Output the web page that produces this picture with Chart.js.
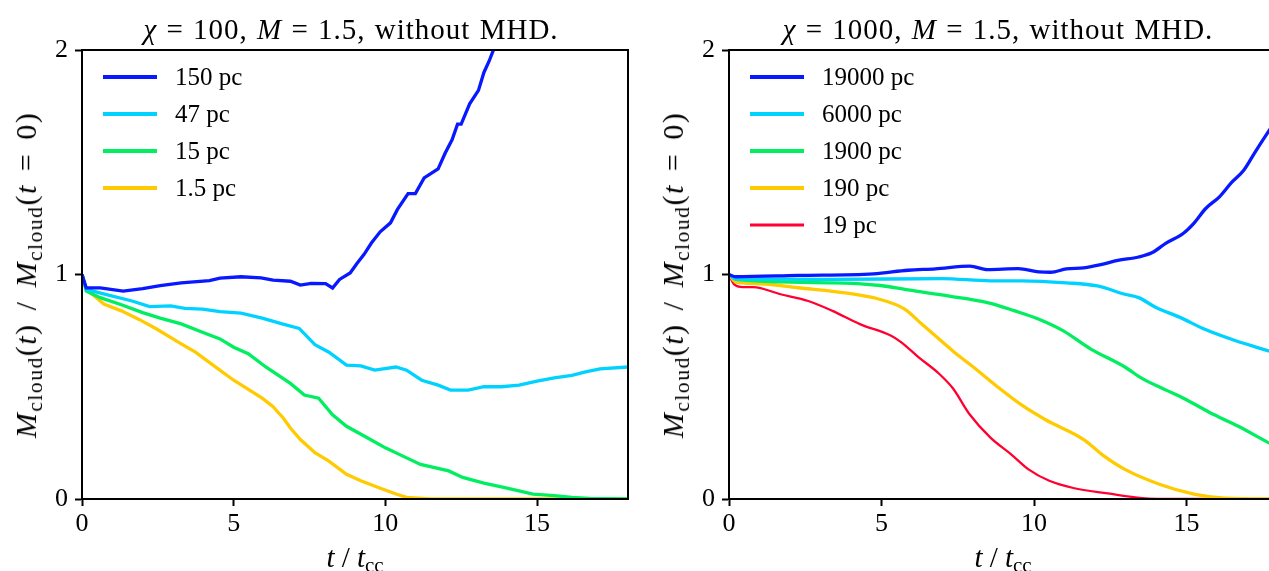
<!DOCTYPE html>
<html lang="en">
<head>
  <meta charset="UTF-8" />
  <title>Cloud mass vs time</title>
  <script src="https://cdn.jsdelivr.net/npm/chart.js"></script>
  <style>
    html, body {
      margin: 0;
      padding: 0;
      background: #fff;
      overflow: hidden;
      width: 1269px;
      height: 571px;
      font-family: 'Liberation Serif', serif;
      color: #000;
    }
    .panel {
      position: absolute;
      top: 0;
      width: 640px;
      height: 571px;
    }
    .panel canvas {
      position: absolute;
      left: 0;
      top: 0;
    }
    .title, .xlabel, .ylabel {
      position: absolute;
      white-space: nowrap;
      line-height: 1;
    }
    .title {
      font-size: 29px;
      letter-spacing: 1px;
      word-spacing: 1px;
      transform: translate(-50%, -50%);
    }
    .xlabel {
      font-size: 29px;
      transform: translate(-50%, -50%);
    }
    .ylabel {
      font-size: 30px;
      letter-spacing: 1.5px;
      word-spacing: 4px;
      transform: translate(-50%, -50%) rotate(-90deg);
    }
    sub {
      font-size: 0.72em;
      vertical-align: -0.28em;
      line-height: 0;
    }
  </style>
</head>
<body>
  <div class="panel" style="left:0">
    <canvas id="leftChart" width="640" height="571"></canvas>
    <div class="title" style="left:351px; top:29px"><i>χ</i> = 100, <i>M</i> = 1.5, without MHD.</div>
    <div class="xlabel" style="left:355px; top:557px"><i>t</i> / <i>t</i><sub>cc</sub></div>
    <div class="ylabel" style="left:26px; top:275px"><i>M</i><sub>cloud</sub>(<i>t</i>) / <i>M</i><sub>cloud</sub>(<i>t</i> = 0)</div>
  </div>
  <div class="panel" style="left:640px">
    <canvas id="rightChart" width="640" height="571"></canvas>
    <div class="title" style="left:358px; top:29px"><i>χ</i> = 1000, <i>M</i> = 1.5, without MHD.</div>
    <div class="xlabel" style="left:363px; top:557px"><i>t</i> / <i>t</i><sub>cc</sub></div>
    <div class="ylabel" style="left:33px; top:275px"><i>M</i><sub>cloud</sub>(<i>t</i>) / <i>M</i><sub>cloud</sub>(<i>t</i> = 0)</div>
  </div>

  <script>
    // chi = 100 runs (left panel)
    const tL150 = [0, 0.14, 0.6, 1.36, 2.0, 2.58, 3.27, 4.2, 4.55, 5.24, 5.9, 6.3, 6.87, 7.2, 7.56, 8.03, 8.26, 8.49, 8.84, 9.07, 9.3, 9.54, 9.83, 10.17, 10.4, 10.75, 10.99, 11.28, 11.74, 11.97, 12.2, 12.38, 12.5, 12.78, 13.07, 13.25, 13.42, 13.65];
    const mL150 = [1.0, 0.94, 0.94, 0.926, 0.937, 0.95, 0.963, 0.973, 0.984, 0.99, 0.985, 0.975, 0.97, 0.953, 0.96, 0.959, 0.94, 0.978, 1.007, 1.05, 1.09, 1.14, 1.19, 1.23, 1.29, 1.36, 1.36, 1.43, 1.47, 1.54, 1.60, 1.67, 1.67, 1.76, 1.82, 1.90, 1.95, 2.03];

    const tL47 = [0, 0.14, 0.84, 1.65, 2.23, 2.92, 3.39, 3.97, 4.55, 5.24, 5.94, 6.6, 7.16, 7.68, 8.14, 8.72, 9.19, 9.65, 10.35, 10.7, 11.2, 11.74, 12.15, 12.73, 13.25, 13.83, 14.41, 15.0, 15.57, 16.15, 16.6, 17.08, 18.0];
    const mL47 = [1.0, 0.934, 0.909, 0.882, 0.857, 0.86, 0.849, 0.846, 0.835, 0.828, 0.806, 0.78, 0.76, 0.687, 0.654, 0.596, 0.593, 0.574, 0.588, 0.574, 0.529, 0.507, 0.485, 0.485, 0.5, 0.5, 0.507, 0.525, 0.54, 0.551, 0.566, 0.58, 0.588];

    const tL15 = [0, 0.14, 0.6, 1.3, 2.0, 2.58, 3.27, 3.97, 4.55, 5.0, 5.48, 6.06, 6.87, 7.33, 7.8, 8.26, 8.72, 9.42, 10.0, 10.58, 11.16, 12.09, 12.55, 13.25, 13.94, 14.87, 15.57, 16.15, 16.73, 18.0];
    const mL15 = [1.0, 0.926, 0.897, 0.865, 0.83, 0.806, 0.78, 0.743, 0.713, 0.676, 0.647, 0.588, 0.515, 0.463, 0.449, 0.375, 0.324, 0.272, 0.228, 0.191, 0.154, 0.125, 0.096, 0.071, 0.051, 0.022, 0.015, 0.007, 0.003, 0.0];

    const tL1p5 = [0, 0.14, 0.72, 1.3, 1.88, 2.46, 3.27, 3.74, 4.32, 5.0, 5.94, 6.29, 6.64, 6.87, 7.2, 7.68, 8.14, 8.72, 9.19, 9.77, 10.35, 10.7, 11.5, 18.0];
    const mL1p5 = [1.0, 0.934, 0.868, 0.838, 0.80, 0.757, 0.691, 0.654, 0.596, 0.529, 0.449, 0.412, 0.36, 0.316, 0.265, 0.206, 0.169, 0.11, 0.081, 0.051, 0.022, 0.007, 0.0, 0.0];

    // chi = 1000 runs (right panel)
    const tR19000 = [0, 0.23, 2.26, 4.74, 5.87, 6.77, 7.9, 8.47, 9.48, 10.16, 10.55, 11.06, 11.63, 12.19, 12.75, 13.43, 13.88, 14.33, 14.9, 15.24, 15.63, 16.08, 16.48, 16.87, 17.27, 17.7, 18.0];
    const mR19000 = [1.0, 0.99, 0.996, 1.003, 1.019, 1.025, 1.037, 1.022, 1.026, 1.012, 1.01, 1.025, 1.03, 1.044, 1.063, 1.078, 1.098, 1.14, 1.184, 1.228, 1.294, 1.346, 1.41, 1.463, 1.55, 1.64, 1.7];

    const tR6000 = [0, 0.23, 3.39, 7.0, 8.58, 9.59, 11.06, 12.08, 12.98, 13.43, 14.0, 14.79, 15.58, 16.59, 17.7, 18.0];
    const mR6000 = [1.0, 0.98, 0.978, 0.982, 0.972, 0.972, 0.963, 0.949, 0.912, 0.897, 0.853, 0.809, 0.757, 0.706, 0.659, 0.645];

    const tR1900 = [0, 0.23, 3.39, 4.97, 5.87, 7.22, 8.47, 9.37, 10.16, 10.95, 11.85, 12.98, 13.54, 14.33, 14.9, 15.91, 16.7, 17.7, 18.0];
    const mR1900 = [1.0, 0.978, 0.963, 0.951, 0.931, 0.904, 0.875, 0.838, 0.801, 0.75, 0.669, 0.588, 0.537, 0.485, 0.449, 0.375, 0.324, 0.25, 0.23];

    const tR190 = [0, 0.23, 0.9, 2.26, 3.95, 4.85, 5.76, 6.32, 7.0, 7.45, 8.01, 8.8, 9.59, 10.38, 11.63, 12.3, 12.98, 14.11, 15.24, 16.25, 18.0];
    const mR190 = [1.0, 0.966, 0.96, 0.941, 0.916, 0.893, 0.846, 0.779, 0.699, 0.647, 0.588, 0.5, 0.419, 0.353, 0.265, 0.191, 0.132, 0.066, 0.022, 0.004, 0.0];

    const tR19 = [0, 0.17, 0.45, 0.79, 1.69, 2.6, 3.39, 4.29, 5.3, 5.64, 6.21, 6.88, 7.34, 7.9, 8.58, 9.25, 9.82, 10.5, 11.29, 12.42, 13.54, 14.7, 18.0];
    const mR19 = [1.0, 0.956, 0.944, 0.944, 0.912, 0.882, 0.838, 0.779, 0.728, 0.699, 0.632, 0.559, 0.493, 0.375, 0.272, 0.199, 0.132, 0.081, 0.049, 0.025, 0.004, 0.0, 0.0];

    const xTicks = [0, 5, 10, 15];
    const yTicks = [0, 1, 2];

    const BLUE = '#0818ff', CYAN = '#00d2ff', GREEN = '#00ee60', YELLOW = '#ffcb00', RED = '#ff0030';
    const FONT = "'Liberation Serif', serif";

    function pts(t, m) {
      return t.map((x, i) => ({ x: x, y: m[i] }));
    }

    function line(label, t, m, color, width, smooth) {
      return {
        label: label,
        data: pts(t, m),
        borderColor: color,
        backgroundColor: color,
        borderWidth: width,
        pointRadius: 0,
        tension: smooth ? 0.35 : 0,
        cubicInterpolationMode: smooth ? 'monotone' : 'default',
        fill: false
      };
    }

    // black box around the plot area
    const frame = {
      id: 'frame',
      afterDraw(chart) {
        const { ctx, chartArea: a } = chart;
        ctx.save();
        ctx.strokeStyle = '#000';
        ctx.lineWidth = 2;
        ctx.strokeRect(a.left, a.top, a.right - a.left, a.bottom - a.top);
        ctx.restore();
      }
    };

    // legend drawn inside the upper-left corner
    const inLegend = {
      id: 'inLegend',
      afterDraw(chart, args, opts) {
        const { ctx, chartArea: a } = chart;
        ctx.save();
        ctx.font = '25px ' + FONT;
        ctx.textBaseline = 'middle';
        ctx.textAlign = 'left';
        chart.data.datasets.forEach((ds, i) => {
          const y = a.top + opts.top + i * opts.step;
          ctx.strokeStyle = ds.borderColor;
          ctx.lineWidth = ds.borderWidth + 0.7;
          ctx.beginPath();
          ctx.moveTo(a.left + opts.x0, y);
          ctx.lineTo(a.left + opts.x0 + 54, y);
          ctx.stroke();
          ctx.fillStyle = '#000';
          ctx.fillText(ds.label, a.left + opts.x0 + 72, y + 1);
        });
        ctx.restore();
      }
    };

    function makeChart(id, datasets, yAxisWidth, padRight) {
      return new Chart(document.getElementById(id), {
        type: 'line',
        data: { datasets: datasets },
        plugins: [frame, inLegend],
        options: {
          responsive: false,
          animation: false,
          layout: { padding: { top: 50, right: padRight, bottom: 0, left: 0 } },
          plugins: {
            legend: { display: false },
            tooltip: { enabled: false },
            inLegend: { x0: 21, top: 27, step: 37 }
          },
          scales: {
            x: {
              type: 'linear',
              min: 0,
              max: 18,
              afterBuildTicks: (s) => { s.ticks = xTicks.map(v => ({ value: v })); },
              afterFit: (s) => { s.height = 72; },
              border: { display: true, color: '#000', width: 2 },
              grid: { drawOnChartArea: false, drawTicks: true, tickLength: 7, tickWidth: 2, tickColor: '#000' },
              ticks: { color: '#000', font: { family: FONT, size: 26 }, padding: 3, maxRotation: 0 }
            },
            y: {
              type: 'linear',
              min: 0,
              max: 2,
              afterBuildTicks: (s) => { s.ticks = yTicks.map(v => ({ value: v })); },
              afterFit: (s) => { s.width = yAxisWidth; },
              border: { display: true, color: '#000', width: 2 },
              grid: { drawOnChartArea: false, drawTicks: true, tickLength: 7, tickWidth: 2, tickColor: '#000' },
              ticks: { color: '#000', font: { family: FONT, size: 26 }, padding: 7 }
            }
          }
        }
      });
    }

    makeChart('leftChart', [
      line('150 pc', tL150, mL150, BLUE, 3.3, false),
      line('47 pc', tL47, mL47, CYAN, 3.3, false),
      line('15 pc', tL15, mL15, GREEN, 3.3, false),
      line('1.5 pc', tL1p5, mL1p5, YELLOW, 3.3, false)
    ], 82, 12);

    makeChart('rightChart', [
      line('19000 pc', tR19000, mR19000, BLUE, 3.3, true),
      line('6000 pc', tR6000, mR6000, CYAN, 3.3, true),
      line('1900 pc', tR1900, mR1900, GREEN, 3.3, true),
      line('190 pc', tR190, mR190, YELLOW, 3.3, true),
      line('19 pc', tR19, mR19, RED, 2.3, true)
    ], 89, 2);
  </script>
</body>
</html>
